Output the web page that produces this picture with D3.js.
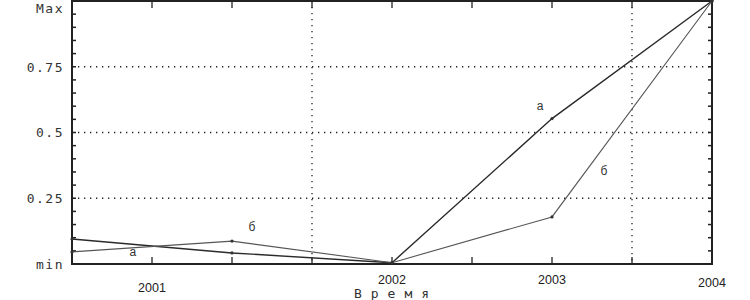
<!DOCTYPE html>
<html>
<head>
<meta charset="utf-8">
<script src="https://cdn.jsdelivr.net/npm/d3@7"></script>
<style>
  body { margin: 0; background: #fff; }
  svg { display: block; }
  .ylab { font-family: "DejaVu Sans Mono", monospace; font-size: 13px; letter-spacing: 1.5px; fill: #333; }
  .xlab { font-family: "Liberation Sans", Arial, sans-serif; font-size: 12.5px; fill: #222; }
  .title { font-family: "DejaVu Sans Mono", monospace; font-size: 13px; letter-spacing: 9px; fill: #333; }
  .note { font-family: "Liberation Sans", Arial, sans-serif; font-size: 12px; fill: #333; }
</style>
</head>
<body>
<svg id="chart" width="750" height="300"></svg>
<script>
// data
const xPoints = [0, 2, 4, 6, 8]
const seriesA = [0.095, 0.042, 0.005, 0.553, 1.0]
const seriesB = [0.046, 0.087, 0.005, 0.179, 1.0]

const yTickVals = [0, 0.25, 0.5, 0.75, 1]
const yTickLabels = ['min', '0.25', '0.5', '0.75', 'Max']
const xLabelPos = [1, 4, 6, 8]
const xLabels = ['2001', '2002', '2003', '2004']
const xGridPos = [3, 7]
const xTitle = 'Время'

const notes = [
  { name: 'а', x: 0.76, v: 0.03 },
  { name: 'б', x: 2.25, v: 0.125 },
  { name: 'а', x: 5.85, v: 0.585 },
  { name: 'б', x: 6.65, v: 0.34 }
]

const MARGIN = { top: 1, right: 38, bottom: 36, left: 72 }
const width = 750, height = 300

const $svg = d3.select('#chart')

const x = d3.scaleLinear()
  .domain([0, 8])
  .range([MARGIN.left, width - MARGIN.right])

const y = d3.scaleLinear()
  .domain([0, 1])
  .range([height - MARGIN.bottom, MARGIN.top])

const x0 = x.range()[0], x1 = x.range()[1]
const y0 = y.range()[0], y1 = y.range()[1]

// dotted grid
$svg.append('g')
  .selectAll('line')
  .data(yTickVals.slice(1, 4))
  .join('line')
  .attr('x1', x0).attr('x2', x1)
  .attr('y1', d => y(d)).attr('y2', d => y(d))
  .attr('stroke', '#222')
  .attr('stroke-width', 1.3)
  .attr('stroke-dasharray', '1.3,4.7')

$svg.append('g')
  .selectAll('line')
  .data(xGridPos)
  .join('line')
  .attr('x1', d => x(d)).attr('x2', d => x(d))
  .attr('y1', y1).attr('y2', y0)
  .attr('stroke', '#222')
  .attr('stroke-width', 1.3)
  .attr('stroke-dasharray', '1.3,4.7')

// minor ticks on left and right sides
const yMinor = d3.range(0, 21).map(i => i / 20)
$svg.append('g')
  .selectAll('line')
  .data(yMinor)
  .join('line')
  .attr('x1', x0).attr('x2', x0 + 4)
  .attr('y1', d => y(d)).attr('y2', d => y(d))
  .attr('stroke', '#222').attr('stroke-width', 1.5)
$svg.append('g')
  .selectAll('line')
  .data(yMinor)
  .join('line')
  .attr('x1', x1 - 4).attr('x2', x1)
  .attr('y1', d => y(d)).attr('y2', d => y(d))
  .attr('stroke', '#222').attr('stroke-width', 1.5)

// x ticks bottom and top
const xTicks = d3.range(0, 9)
$svg.append('g')
  .selectAll('line')
  .data(xTicks)
  .join('line')
  .attr('x1', d => x(d)).attr('x2', d => x(d))
  .attr('y1', y0).attr('y2', y0 - 7)
  .attr('stroke', '#222').attr('stroke-width', 1.3)
$svg.append('g')
  .selectAll('line')
  .data(xTicks)
  .join('line')
  .attr('x1', d => x(d)).attr('x2', d => x(d))
  .attr('y1', y1).attr('y2', y1 + 7)
  .attr('stroke', '#222').attr('stroke-width', 1.3)

// frame
$svg.append('rect')
  .attr('x', x0).attr('y', y1)
  .attr('width', x1 - x0).attr('height', y0 - y1)
  .attr('fill', 'none')
  .attr('stroke', '#222')
  .attr('stroke-width', 2)

// lines
const line = d3.line()
  .x((d, i) => x(xPoints[i]))
  .y(d => y(d))

;[seriesA, seriesB].forEach((s, k) => {
  $svg.append('path')
    .datum(s)
    .attr('d', line)
    .attr('fill', 'none')
    .attr('stroke', k == 0 ? '#2a2a2a' : '#555')
    .attr('stroke-width', k == 0 ? 1.4 : 1.1)
  $svg.append('g')
    .selectAll('circle')
    .data(s)
    .join('circle')
    .attr('cx', (d, i) => x(xPoints[i]))
    .attr('cy', d => y(d))
    .attr('r', 1.6)
    .attr('fill', '#333')
})

// y labels (top one pushed down so it stays inside the page)
$svg.append('g')
  .selectAll('text')
  .data(yTickVals)
  .join('text')
  .attr('class', 'ylab')
  .attr('x', x0 - 8)
  .attr('y', d => Math.max(y(d), 8))
  .attr('dy', '0.38em')
  .attr('text-anchor', 'end')
  .text((d, i) => yTickLabels[i])

// x labels
$svg.append('g')
  .selectAll('text')
  .data(xLabelPos)
  .join('text')
  .attr('class', 'xlab')
  .attr('x', d => x(d))
  .attr('y', (d, i) => i == 0 ? y0 + 28 : (i == 3 ? y0 + 23 : y0 + 20))
  .attr('text-anchor', 'middle')
  .text((d, i) => xLabels[i])

$svg.append('text')
  .attr('class', 'title')
  .attr('x', x(4) + 4)
  .attr('y', 298)
  .attr('text-anchor', 'middle')
  .text(xTitle)

// series notes
$svg.append('g')
  .selectAll('text')
  .data(notes)
  .join('text')
  .attr('class', 'note')
  .attr('x', d => x(d.x))
  .attr('y', d => y(d.v))
  .attr('text-anchor', 'middle')
  .text(d => d.name)
</script>
</body>
</html>
